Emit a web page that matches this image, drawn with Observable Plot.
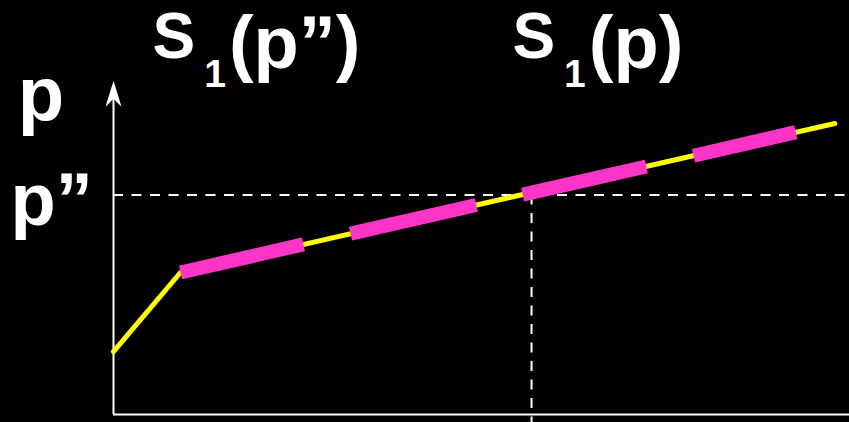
<!DOCTYPE html>
<html>
<head>
<meta charset="utf-8">
<script src="https://cdn.jsdelivr.net/npm/d3@7"></script>
<script src="https://cdn.jsdelivr.net/npm/@observablehq/plot@0.6"></script>
<style>
  html, body { margin: 0; padding: 0; background: #000; }
  #chart svg { display: block; }
</style>
</head>
<body>
<div id="chart"></div>
<script>
// Supply curve: lower piece then upper piece (abstract units 0–100)
const curveX = [0, 9.1, 98.0];
const curveY = [15.2, 34.3, 70.3];

// Highlighted (dashed, thick) pieces along the upper piece
const segX1 = [9.1, 32.2, 55.6, 78.8];
const segY1 = [34.3, 43.7, 53.1, 62.5];
const segX2 = [25.8, 49.3, 72.4, 92.7];
const segY2 = [41.1, 50.6, 59.9, 68.2];

// Reference levels
const pLevel = 53.0;   // p''
const sLevel = 56.8;   // S1(p'')
const axisTop = 77.5;  // top of the vertical axis (arrow)

// Labels
const yLabels = ["p", "p\u201D"];
const topLabels = ["S1(p\u201D)", "S1(p)"];

const curve = curveX.map((x, i) => ({x, y: curveY[i]}));
const segs = segX1.map((x1, i) => ({x1, y1: segY1[i], x2: segX2[i], y2: segY2[i]}));

const arrowHead = {
  draw(ctx) {
    ctx.moveTo(0, -13);
    ctx.lineTo(8, 13);
    ctx.lineTo(0, 5);
    ctx.lineTo(-8, 13);
    ctx.closePath();
  }
};

const font = "'Liberation Sans', Arial, sans-serif";

const chart = Plot.plot({
  width: 849,
  height: 422,
  marginLeft: 113,
  marginRight: 0,
  marginTop: 0,
  marginBottom: 8,
  x: {domain: [0, 100], axis: null},
  y: {domain: [0, 100], axis: null},
  style: {background: "black", color: "white", fontFamily: font, overflow: "visible"},
  marks: [
    // dashed guides
    Plot.ruleY([pLevel], {x1: 0, x2: 100, stroke: "white", strokeWidth: 2, strokeDasharray: "10,8.5"}),
    Plot.ruleX([sLevel], {y1: pLevel, y2: -2.5, stroke: "white", strokeWidth: 2, strokeDasharray: "10,8.5"}),
    // axes
    Plot.ruleY([0], {x1: 0, x2: 100, stroke: "white", strokeWidth: 2}),
    Plot.ruleX([0], {y1: 0, y2: axisTop, stroke: "white", strokeWidth: 2}),
    Plot.dot([{x: 0, y: axisTop}], {x: "x", y: "y", symbol: arrowHead, r: 1, fill: "white", stroke: null}),
    // curve
    Plot.line(curve, {x: "x", y: "y", stroke: "#ffff00", strokeWidth: 5, strokeLinejoin: "miter"}),
    Plot.link(segs, {x1: "x1", y1: "y1", x2: "x2", y2: "y2", stroke: "#ff35c8", strokeWidth: 14, strokeLinecap: "butt"}),
    // labels
    Plot.text([yLabels[0]], {x: -13.0, y: 71.15, text: d => d, textAnchor: "start", lineAnchor: "bottom",
      fontSize: 76, fontWeight: "bold", fill: "white"}),
    Plot.text([yLabels[1]], {x: -14.0, y: pLevel, dy: 30, text: d => d, textAnchor: "start", lineAnchor: "bottom",
      fontSize: 74, fontWeight: "bold", fill: "white"}),
    Plot.text(topLabels, {x: [5.3, 54.2], y: 86.0, text: d => d, textAnchor: "start", lineAnchor: "bottom",
      fontSize: 64, fontWeight: "bold", fill: "white"})
  ]
});

// turn the "1" after S into a subscript, with the bracketed part set larger
d3.select(chart).selectAll("text").each(function() {
  const s = this.textContent;
  if (/^S1\(/.test(s)) {
    const t = d3.select(this);
    t.text(null);
    t.append("tspan").text("S");
    t.append("tspan").attr("font-size", 39).attr("dx", 9).attr("dy", 29).text("1");
    t.append("tspan").attr("font-size", 74).attr("dx", 3).attr("dy", -19).text(s.slice(2));
  }
});

document.getElementById("chart").appendChild(chart);
</script>
</body>
</html>
